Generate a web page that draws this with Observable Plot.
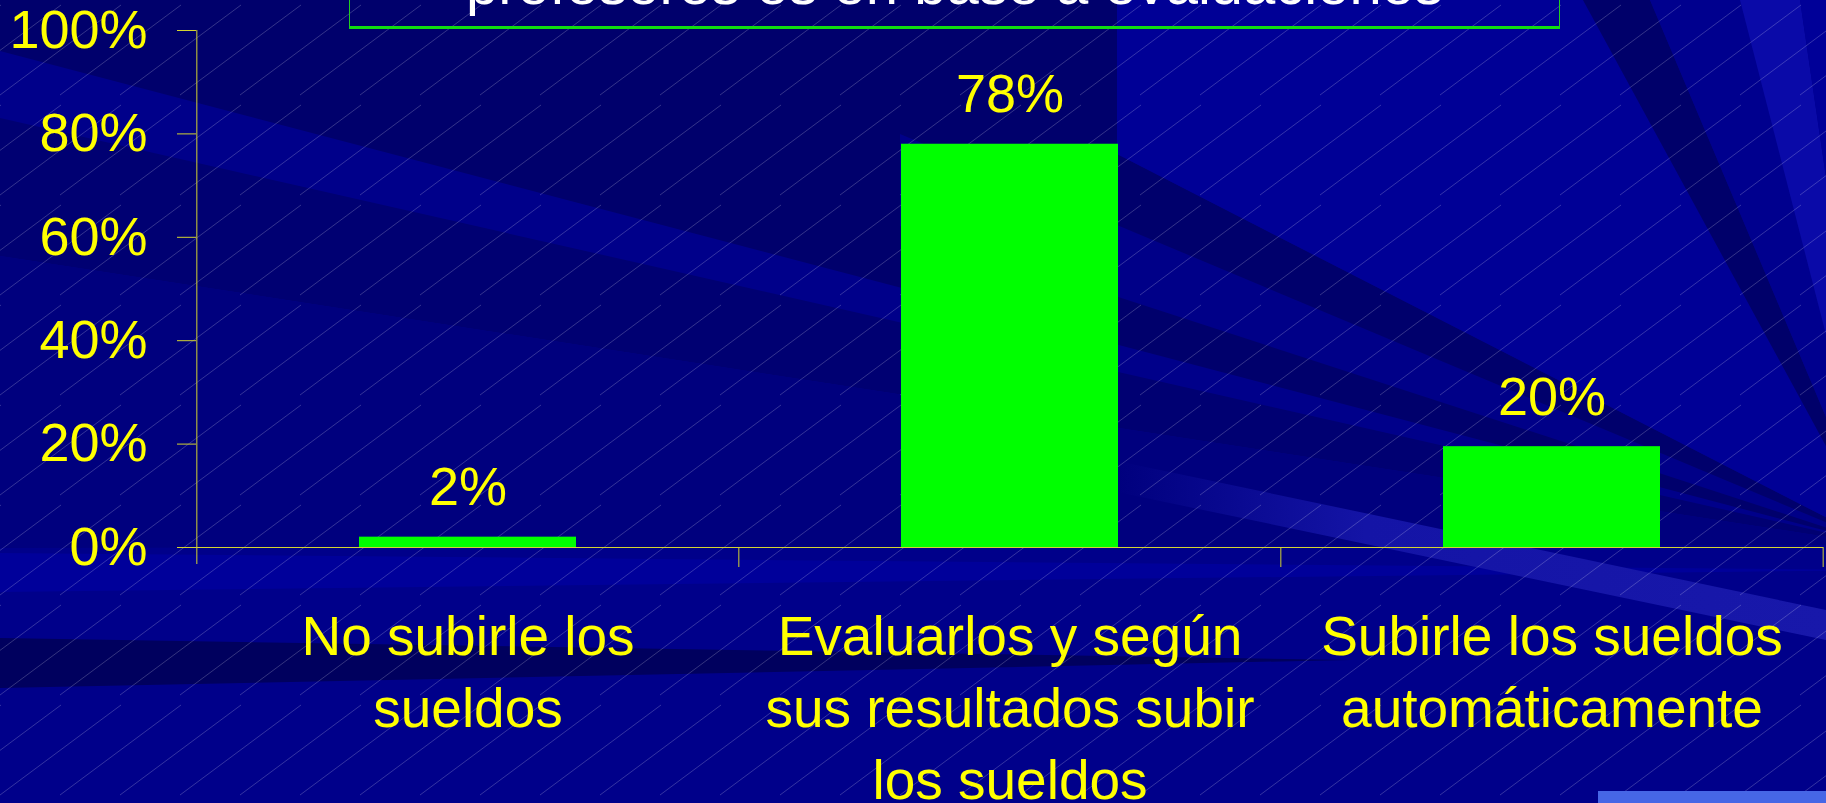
<!DOCTYPE html>
<html>
<head>
<meta charset="utf-8">
<script src="https://cdn.jsdelivr.net/npm/d3@7"></script>
<script src="https://cdn.jsdelivr.net/npm/@observablehq/plot@0.6"></script>
<style>
html, body { margin: 0; padding: 0; background: #00008a; }
#wrap { position: relative; width: 1826px; height: 803px; overflow: hidden; font-family: "Liberation Sans", Arial, sans-serif; }
#bg { position: absolute; left: 0; top: 0; }
#title { position: absolute; left: 349px; top: -70px; width: 1209px; height: 95px; border: 1px solid #22cc22; border-bottom: 3px solid #11dd11; }
#title span { position: absolute; left: 0; right: 0; top: 24px; text-align: center; color: #ffffff; font-size: 58px; line-height: 1; white-space: nowrap; }
#chart { position: absolute; left: 0; top: 0; }
#corner { position: absolute; left: 1598px; top: 791px; width: 228px; height: 12px; background: #4666e6; }
</style>
</head>
<body>
<div id="wrap">
  <svg id="bg" width="1826" height="803"></svg>
  <div id="title"><span>profesores es en base a evaluaciones</span></div>
  <div id="chart"></div>
  <div id="corner"></div>
</div>
<script>
// ---- data ----
const categories = [
  "No subirle los sueldos",
  "Evaluarlos y según sus resultados subir los sueldos",
  "Subirle los sueldos automáticamente"
];
const categoryLines = [
  "No subirle los\nsueldos",
  "Evaluarlos y según\nsus resultados subir\nlos sueldos",
  "Subirle los sueldos\nautomáticamente"
];
const values = [2, 78, 19.5];
const valueLabels = ["2%", "78%", "20%"];
const yTicks = [0, 20, 40, 60, 80, 100];

// ---- decorative background (slide template) ----
const bgBands = [
  {pts: [[0,0],[1117,0],[1117,154],[1880,545],[0,51]], fill: "#00006c"},
  {pts: [[0,118],[0,256],[1880,545]], fill: "#000072"},
  {pts: [[0,256],[0,548],[1880,545]], fill: "#00007e"},
  {pts: [[900,134],[900,226],[1880,545]], fill: "#000088"},
  {pts: [[0,553],[0,592],[1880,570]], fill: "#00009a"},
  {pts: [[0,638],[0,688],[1350,660]], fill: "#00005e"},
  {pts: [[1117,0],[1583,0],[1880,545],[1117,154]], fill: "#000096"},
  {pts: [[1583,0],[1650,0],[1880,545]], fill: "#00006a"},
  {pts: [[1650,0],[1740,0],[1880,545]], fill: "#00008e"},
  {pts: [[1740,0],[1800,0],[1880,545]], fill: "#0a0aa8"},
  {pts: [[1800,0],[1826,0],[1826,420],[1880,545]], fill: "#000098"},
  {pts: [[1117,461],[1826,610],[1826,640],[1117,492]], fill: "url(#streak)"}
];
const bg = d3.select("#bg");
const defs = bg.append("defs");
const grad = defs.append("linearGradient").attr("id", "streak").attr("x1", 0).attr("x2", 1).attr("y1", 0).attr("y2", 0);
grad.append("stop").attr("offset", 0).attr("stop-color", "#1414a6").attr("stop-opacity", 0);
grad.append("stop").attr("offset", 0.35).attr("stop-color", "#1414a6").attr("stop-opacity", 1);
grad.append("stop").attr("offset", 1).attr("stop-color", "#1818aa").attr("stop-opacity", 1);
const pat = defs.append("pattern").attr("id", "hatch").attr("patternUnits", "userSpaceOnUse")
  .attr("width", 60).attr("height", 100);
[-120, -60, 0].forEach(k => pat.append("line")
  .attr("x1", k).attr("y1", 95).attr("x2", k + 121).attr("y2", 5)
  .attr("stroke", "#ffffff").attr("stroke-opacity", 0.2).attr("stroke-width", 1));
bg.append("rect").attr("width", 1826).attr("height", 803).attr("fill", "#00008a");
bg.selectAll("polygon.band").data(bgBands).join("polygon").attr("class", "band")
  .attr("points", d => d.pts.map(p => p.join(",")).join(" ")).attr("fill", d => d.fill);
bg.append("rect").attr("width", 1826).attr("height", 803).attr("fill", "url(#hatch)");

// ---- chart ----
const data = categories.map((c, i) => ({cat: c, value: values[i], label: valueLabels[i], lines: categoryLines[i]}));
const lineOf = new Map(data.map(d => [d.cat, d.lines]));

const W = 1826, H = 803, ML = 196, MR = 3, MT = 30, MB = 256;
const step = (W - ML - MR) / categories.length;
const plotH = H - MT - MB;
const axisColor = "#d4d430";
const yellow = "#ffff00";

const chart = Plot.plot({
  width: W, height: H,
  marginLeft: ML, marginRight: MR, marginTop: MT, marginBottom: MB,
  style: {background: "transparent", color: yellow, fontFamily: "'Liberation Sans', Arial, sans-serif", overflow: "visible"},
  x: {domain: categories, paddingInner: 0.6, paddingOuter: 0.3, axis: null},
  y: {domain: [0, 100], axis: null},
  marks: [
    Plot.barY(data, {x: "cat", y: "value", fill: "#00ff00"}),
    Plot.ruleY([0], {stroke: axisColor, insetLeft: -19}),
    // vertical value axis line (left edge of first category)
    Plot.ruleX([categories[0]], {x: d => d, dx: -step / 2, y1: 100, y2: 0, stroke: axisColor, insetBottom: -17}),
    // category separators
    Plot.ruleX(categories.slice(1), {x: d => d, dx: -step / 2, stroke: axisColor, insetTop: plotH, insetBottom: -20}),
    Plot.ruleX([categories[categories.length - 1]], {x: d => d, dx: step / 2, stroke: axisColor, insetTop: plotH, insetBottom: -20}),
    Plot.axisY({ticks: yTicks, tickFormat: d => d + "%", tickSize: 19, tickPadding: 30, fontSize: 54, stroke: axisColor, label: null}),
    Plot.axisX({tickSize: 0, tickPadding: 56, fontSize: 55, lineHeight: 1.31, tickFormat: d => lineOf.get(d), label: null, textOverflow: null}),
    Plot.text(data, {x: "cat", y: "value", text: "label", dy: -32, lineAnchor: "bottom", fontSize: 54, fill: yellow})
  ]
});
document.getElementById("chart").appendChild(chart);
</script>
</body>
</html>
